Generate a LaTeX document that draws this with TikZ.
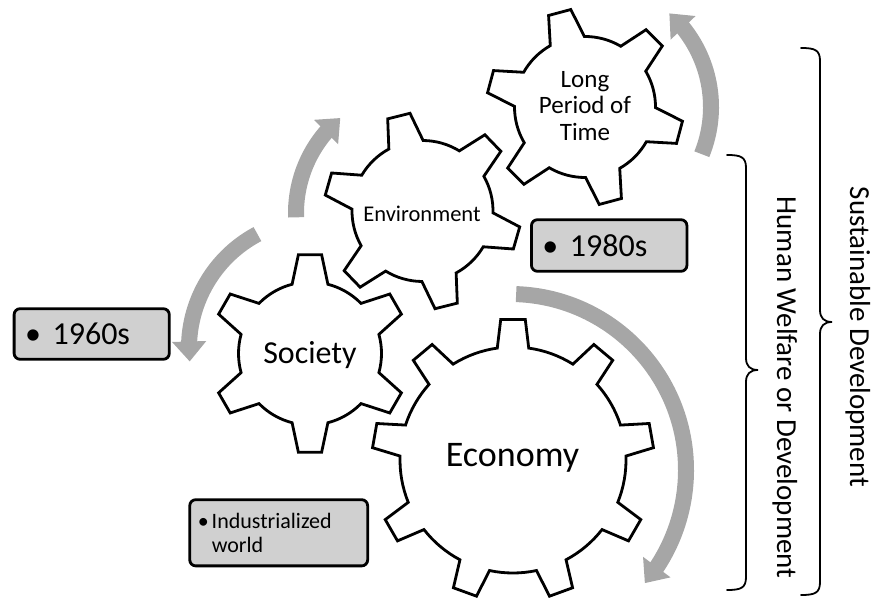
\documentclass[tikz,border=0pt]{standalone}
\usepackage{fontspec}
\setmainfont{Carlito}
\usetikzlibrary{arrows.meta,bending}
\definecolor{arrowgray}{RGB}{166,166,166}
\definecolor{boxgray}{RGB}{208,208,208}

% #1 centre, #2 number of teeth, #3 tip radius, #4 root radius,
% #5 angle of the first tooth, #6 half-angle of a tooth tip, #7 half-angle of a tooth root
\newcommand{\cogwheel}[7]{%
  \pgfmathsetmacro\cogstep{360/#2}%
  \draw[cogline] ([shift={(#1)}]#5-#7:#4pt)
    \foreach \k [evaluate=\k as \ca using #5+(\k-1)*\cogstep] in {1,...,#2}{
      -- ([shift={(#1)}]\ca-#6:#3pt)
      -- ([shift={(#1)}]\ca+#6:#3pt)
      -- ([shift={(#1)}]\ca+#7:#4pt)
      arc[start angle=\ca+#7, end angle=\ca+\cogstep-#7, radius=#4pt]
    } -- cycle;
}

\begin{document}
\begin{tikzpicture}[x=1pt,y=1pt,
  cogline/.style={draw=black, line width=2.8pt, fill=white, line join=miter},
  cyclearrow/.style={draw=arrowgray, line width=16pt, -{Triangle[width=33pt,length=20pt]}},
  tagbox/.style={draw=black, line width=2.8pt, fill=boxgray, rounded corners=6pt, align=left, inner ysep=0pt},
  bracestroke/.style={draw=black, line width=1.8pt, line cap=round},
  cogtext/.style={inner sep=0pt, anchor=base},
  sidetext/.style={rotate=-90, anchor=base, inner sep=0pt, font=\fontsize{29}{34}\selectfont}
]
\useasboundingbox (0,0) rectangle (877,599);

% gear centres
\coordinate (econ) at (513,139);
\coordinate (soc) at (310,245.5);
\coordinate (env) at (422.5,388);
\coordinate (lpt) at (585,492);

% centres of the circular arrows
\coordinate (econloop) at (510,129);
\coordinate (socloop) at (318,251);
\coordinate (envloop) at (420,386);
\coordinate (lptloop) at (585,492);

% circular arrows
\draw[cyclearrow] ([shift={(econloop)}]88:176pt) arc[start angle=88, end angle=-40, radius=176pt];
\draw[cyclearrow] ([shift={(socloop)}]118:129pt) arc[start angle=118, end angle=186, radius=129pt];
\draw[cyclearrow] ([shift={(envloop)}]182:124pt) arc[start angle=182, end angle=130, radius=124pt];
\draw[cyclearrow] ([shift={(lptloop)}]-22:126pt) arc[start angle=-22, end angle=48, radius=126pt];

% gears
\cogwheel{econ}{9}{141}{113}{10}{5}{8}
\cogwheel{soc}{6}{99.5}{71.5}{30}{6.7}{14.5}
\cogwheel{env}{6}{98.5}{70.5}{104}{6.7}{14.5}
\cogwheel{lpt}{6}{98.5}{70.5}{105}{6.7}{14.5}

% gear labels
\node[cogtext, font=\fontsize{36}{43}\selectfont] (econlabel) at (512.5,132.3) {Economy};
\node[cogtext, font=\fontsize{32}{38}\selectfont] (soclabel) at (310,235) {Society};
\node[cogtext, font=\fontsize{22.5}{27}\selectfont] (envlabel) at (422,377.3) {Environment};
\node[font=\fontsize{25}{26.3}\selectfont, align=center, inner sep=0pt] (lptlabel) at (585,493) {Long\\Period of\\Time};

% bullet boxes
\node[tagbox, minimum width=155.2pt, minimum height=50.6pt, text width=133.2pt, inner xsep=11pt,
      font=\fontsize{32}{38}\selectfont] (sixties) at (91.7,265) {\makebox[27.5pt][l]{\textbullet}1960s};
\node[tagbox, minimum width=155.5pt, minimum height=51.6pt, text width=133.5pt, inner xsep=11pt,
      font=\fontsize{32}{38}\selectfont] (eighties) at (609.2,353.5) {\makebox[27.5pt][l]{\textbullet}1980s};
\node[tagbox, minimum width=177.9pt, minimum height=66.2pt, text width=161.9pt, inner xsep=8pt,
      font=\fontsize{22}{24}\selectfont] (industry) at (278.7,66.2) {\makebox[14pt][l]{\textbullet}Industrialized\\\hspace*{14pt}world};

% braces
\draw[bracestroke] (727,444) .. controls (741,444) and (746,442) .. (746,431) -- (746,241)
  .. controls (746,233) and (750,229) .. (758,229) .. controls (750,229) and (746,225) .. (746,217)
  -- (746,22) .. controls (746,11) and (741,9) .. (727,9);
\draw[bracestroke] (801,551) .. controls (815,551) and (820,549) .. (820,538) -- (820,289)
  .. controls (820,281) and (824,277) .. (832,277) .. controls (824,277) and (820,273) .. (820,265)
  -- (820,17) .. controls (820,6) and (815,4) .. (801,4);

% brace labels
\node[sidetext] (welfare) at (777,211.5) {Human Welfare or Development};
\node[sidetext] (sustain) at (850,262) {Sustainable Development};
\end{tikzpicture}
\end{document}
